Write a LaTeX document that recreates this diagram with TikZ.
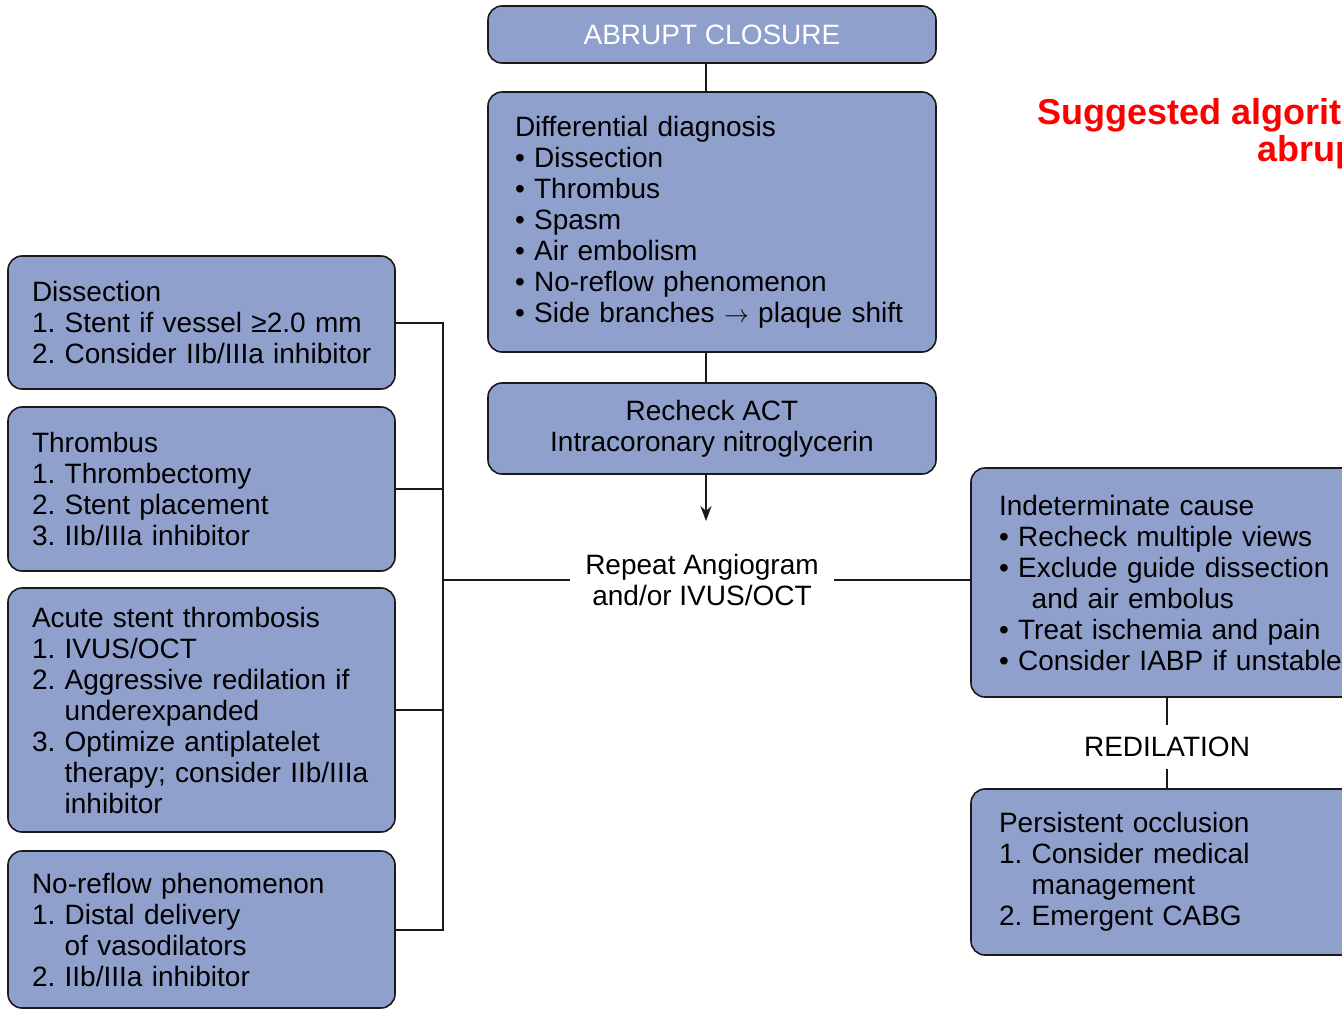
\documentclass[tikz,border=0pt]{standalone}
\usepackage{fontspec}
\setmainfont{Liberation Sans}
\usepackage{tikz}
\usetikzlibrary{arrows.meta,positioning}
\definecolor{boxblue}{HTML}{8FA0CC}
\definecolor{boxline}{HTML}{1A1A1A}
\definecolor{titlered}{HTML}{FF0000}
\newcommand{\bodyfont}{\fontsize{28}{31}\selectfont\frenchspacing\hyphenpenalty=10000\exhyphenpenalty=10000}
\newcommand{\cont}{\phantom{2. }}

\begin{document}
\begin{tikzpicture}[x=1pt, y=-1pt,
  % every blue box shares border, fill and font
  box/.style={draw=boxline, fill=boxblue, line width=1.6pt, rounded corners=14pt, inner ysep=0pt, font=\bodyfont},
  leftbox/.style={box, inner xsep=24pt, text width=339pt, align=left},
  midbox/.style={box, minimum width=448pt, align=center},
  rightbox/.style={box, inner xsep=28pt, text width=360pt, align=left},
  plainlabel/.style={font=\bodyfont, align=center, inner ysep=0pt},
  titlefont/.style={font=\fontsize{36}{37}\selectfont\bfseries, text=titlered, anchor=base west, inner sep=0pt},
  link/.style={line width=2pt, draw=boxline},
]
\useasboundingbox (0,0) rectangle (1342,1010);
\clip (0,0) rectangle (1342,1010);

% guide columns for the connectors
\coordinate (axis) at (706,0);
\coordinate (bus) at (443,0);
\coordinate (raxis) at (1167,0);

% centre column
\node[midbox, text=white, minimum height=57pt] (abrupt) at (712,34.5) {ABRUPT CLOSURE};
\node[box, inner xsep=27pt, text width=394pt, align=left, minimum height=260pt] (diff) at (712,222)
  {Differential diagnosis\\• Dissection\\• Thrombus\\• Spasm\\• Air embolism\\• No-reflow phenomenon\\\mbox{• Side branches {$\rightarrow$} plaque shift}};
\node[midbox, minimum height=91pt] (recheck) at (712,428.5) {Recheck ACT\\Intracoronary nitroglycerin};
\node[plainlabel, inner xsep=15pt] (repeat) at (702,580) {Repeat Angiogram\\and/or IVUS/OCT};

% left column
\node[leftbox, minimum height=133pt] (dis) at (201.5,322.5)
  {Dissection\\1. Stent if vessel ≥2.0 mm\\\mbox{2. Consider IIb/IIIa inhibitor}};
\node[leftbox, minimum height=164pt] (thr) at (201.5,489)
  {Thrombus\\1. Thrombectomy\\2. Stent placement\\3. IIb/IIIa inhibitor};
\node[leftbox, minimum height=244pt] (ast) at (201.5,710)
  {Acute stent thrombosis\\1. IVUS/OCT\\2. Aggressive redilation if\\\cont underexpanded\\3. Optimize antiplatelet\\\mbox{\cont therapy; consider IIb/IIIa}\\\cont inhibitor};
\node[leftbox, minimum height=157pt] (nor) at (201.5,929.5)
  {No-reflow phenomenon\\1. Distal delivery\\\cont of vasodilators\\2. IIb/IIIa inhibitor};

% right column
\node[rightbox, minimum height=229pt] (ind) at (1179,582.5)
  {Indeterminate cause\\• Recheck multiple views\\• Exclude guide dissection\\\cont and air embolus\\• Treat ischemia and pain\\• Consider IABP if unstable};
\node[plainlabel, inner ysep=11.5pt] (redil) at (1167,747) {REDILATION};
\node[rightbox, minimum height=166pt] (per) at (1179,872)
  {Persistent occlusion\\1. Consider medical\\\cont management\\2. Emergent CABG};

% title, cut by the page edge
\node[titlefont] (title) at (1037,124) {Suggested algorit};
\node[titlefont] (titleb) at (1257,161) {abrup};

% connectors
\draw[link] (abrupt.south -| axis) -- (diff.north -| axis);
\draw[link] (diff.south -| axis) -- (recheck.north -| axis);
\draw[link, -{Stealth[length=15pt,width=11pt]}, shorten >=33pt] (recheck.south -| axis) -- (repeat.north -| axis);
\draw[link] (dis.east) -- (dis.east -| bus) -- (nor.east -| bus) -- (nor.east);
\foreach \b in {thr,ast} \draw[link] (\b.east) -- (\b.east -| bus);
\draw[link] (repeat.west) -- (repeat.west -| bus);
\draw[link] (repeat.east) -- (repeat.east -| ind.west);
\draw[link] (ind.south -| raxis) -- (redil.north);
\draw[link] (redil.south) -- (per.north -| raxis);
\end{tikzpicture}
\end{document}
